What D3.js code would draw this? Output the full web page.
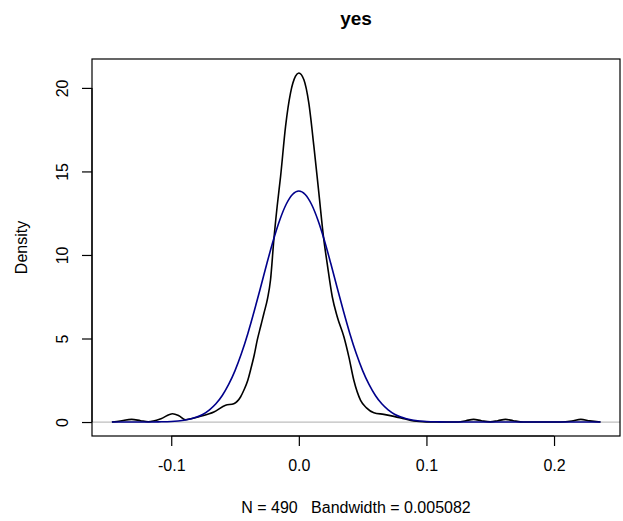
<!DOCTYPE html>
<html>
<head>
<meta charset="utf-8">
<script src="https://cdn.jsdelivr.net/npm/d3@7"></script>
<style>
  body { margin: 0; background: #fff; }
  text { font-family: "Liberation Sans", Arial, Helvetica, sans-serif; }
</style>
</head>
<body>
<script>
// kernel density (black)
var densX = [-0.1465, -0.140, -0.131, -0.124, -0.118, -0.108, -0.099, -0.094, -0.0888, -0.082, -0.077, -0.0666,
  -0.0574, -0.051, -0.0457, -0.0431, -0.0400, -0.0379, -0.0350, -0.0326, -0.0300, -0.0274, -0.0245, -0.0222,
  -0.0196, -0.0170, -0.0143, -0.0104, -0.0065, -0.0026, 0.0000, 0.0039, 0.0078, 0.0118, 0.0157, 0.0196,
  0.0222, 0.0262, 0.0301, 0.0353, 0.0392, 0.0431, 0.0484, 0.0530, 0.0588, 0.0666, 0.0745, 0.0823, 0.0900,
  0.1000, 0.110, 0.125, 0.131, 0.137, 0.143, 0.150, 0.156, 0.162, 0.168, 0.176, 0.205, 0.214, 0.221, 0.228, 0.2364];
var densY = [0.00, 0.06, 0.16, 0.08, 0.02, 0.20, 0.50, 0.38, 0.14, 0.24, 0.34, 0.60,
  1.00, 1.10, 1.50, 1.90, 2.50, 3.10, 4.00, 4.90, 5.70, 6.50, 7.40, 8.50,
  10.90, 12.90, 14.70, 17.70, 19.70, 20.70, 20.89, 20.50, 19.10, 16.50, 13.70, 10.90,
  9.50, 7.50, 6.30, 5.10, 3.90, 2.50, 1.30, 0.85, 0.56, 0.46, 0.34, 0.20, 0.06,
  0.01, 0.00, 0.00, 0.08, 0.16, 0.08, 0.01, 0.08, 0.16, 0.08, 0.00, 0.00, 0.06, 0.16, 0.07, 0.00];

// normal curve (dark blue)
var normX = [-0.1465, -0.12, -0.11, -0.10, -0.09, -0.08, -0.075, -0.07, -0.065, -0.06, -0.055, -0.05, -0.045,
  -0.04, -0.035, -0.03, -0.025, -0.02, -0.015, -0.01, -0.005, 0, 0.005, 0.01, 0.015, 0.02, 0.025, 0.03,
  0.035, 0.04, 0.045, 0.05, 0.055, 0.06, 0.065, 0.07, 0.075, 0.08, 0.09, 0.10, 0.11, 0.12, 0.2364];
var normY = [0.00, 0.00, 0.01, 0.03, 0.11, 0.30, 0.47, 0.73, 1.09, 1.59, 2.25, 3.08, 4.10,
  5.29, 6.63, 8.05, 9.50, 10.88, 12.08, 13.02, 13.62, 13.83, 13.62, 13.02, 12.08, 10.88, 9.50, 8.05,
  6.63, 5.29, 4.10, 3.08, 2.25, 1.59, 1.09, 0.73, 0.47, 0.30, 0.11, 0.03, 0.01, 0.00, 0.00];

var xTicks = [-0.1, 0.0, 0.1, 0.2];
var yTicks = [0, 5, 10, 15, 20];

var width = 623, height = 521;
var margin = {left: 92, right: 3, top: 59, bottom: 85};

var x = d3.scaleLinear().domain([-0.1621, 0.2517]).range([margin.left, width - margin.right]);
var y = d3.scaleLinear().domain([-0.836, 21.73]).range([height - margin.bottom, margin.top]);

var svg = d3.select("body").append("svg").attr("width", width).attr("height", height);

// zero line
svg.append("line")
  .attr("x1", margin.left).attr("x2", width - margin.right)
  .attr("y1", y(0)).attr("y2", y(0))
  .attr("stroke", "#bebebe").attr("stroke-width", 1.2);

var line = d3.line().x(function(d) { return x(d[0]); }).y(function(d) { return y(d[1]); }).curve(d3.curveMonotoneX);

svg.append("path")
  .datum(densX.map(function(v, i) { return [v, densY[i]]; }))
  .attr("d", line).attr("fill", "none").attr("stroke", "#000").attr("stroke-width", 1.6);

svg.append("path")
  .datum(normX.map(function(v, i) { return [v, normY[i]]; }))
  .attr("d", line).attr("fill", "none").attr("stroke", "#00008b").attr("stroke-width", 1.6);

// box
svg.append("rect")
  .attr("x", margin.left).attr("y", margin.top)
  .attr("width", width - margin.right - margin.left).attr("height", height - margin.bottom - margin.top)
  .attr("fill", "none").attr("stroke", "#000").attr("stroke-width", 1.2);

// R prints a plain hyphen, not the unicode minus
var fmt = function(d) { return d3.format(".1f")(d).replace("\u2212", "-"); };

var xAxis = d3.axisBottom(x).tickValues(xTicks).tickFormat(fmt).tickSizeOuter(0).tickSize(10).tickPadding(14);
var gx = svg.append("g").attr("transform", "translate(0," + (height - margin.bottom) + ")").call(xAxis);
gx.select(".domain").attr("d", "M" + x(xTicks[0]) + ",0H" + x(xTicks[xTicks.length - 1]));

var yAxis = d3.axisLeft(y).tickValues(yTicks).tickSizeOuter(0).tickSize(10);
var gy = svg.append("g").attr("transform", "translate(" + margin.left + ",0)").call(yAxis);
gy.select(".domain").attr("d", "M0," + y(yTicks[0]) + "V" + y(yTicks[yTicks.length - 1]));
gy.selectAll(".tick text")
  .attr("x", null).attr("dy", null)
  .attr("text-anchor", "middle")
  .attr("transform", "translate(-24,0) rotate(-90)");

svg.selectAll(".domain, .tick line").attr("stroke", "#000").attr("stroke-width", 1.2);
svg.selectAll(".tick text").attr("font-size", 16).attr("fill", "#000")
  .style("font-family", "'Liberation Sans', Arial, Helvetica, sans-serif");

svg.append("text").attr("x", (margin.left + width - margin.right) / 2).attr("y", 25)
  .attr("text-anchor", "middle").attr("font-size", 19).attr("font-weight", "bold").text("yes");

svg.append("text").attr("x", (margin.left + width - margin.right) / 2).attr("y", 513)
  .attr("text-anchor", "middle").attr("font-size", 16).text("N = 490   Bandwidth = 0.005082")
  .attr("xml:space", "preserve").style("white-space", "pre");

svg.append("text").attr("transform", "translate(27," + ((margin.top + height - margin.bottom) / 2) + ") rotate(-90)")
  .attr("text-anchor", "middle").attr("font-size", 16).text("Density");
</script>
</body>
</html>
